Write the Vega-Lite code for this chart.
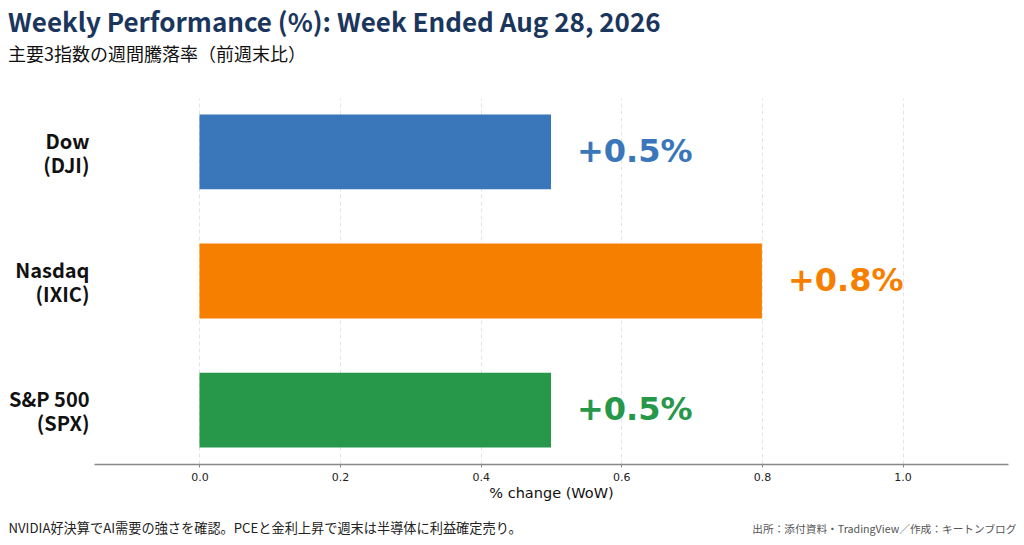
{
  "$schema": "https://vega.github.io/schema/vega-lite/v6.json",
  "description": "Weekly performance of the three major US indices, week ended Aug 28, 2026.",
  "autosize": "none",
  "width": 914,
  "height": 366,
  "padding": {"left": 94, "top": 98, "right": 16, "bottom": 81},
  "background": "white",
  "title": {
    "text": "Weekly Performance (%): Week Ended Aug 28, 2026",
    "subtitle": "主要3指数の週間騰落率（前週末比）",
    "anchor": "start",
    "frame": "group",
    "dx": -86,
    "offset": 33,
    "font": "Noto Sans CJK JP",
    "fontSize": 26,
    "fontWeight": "bold",
    "color": "#1b365d",
    "subtitleFont": "Noto Sans CJK JP",
    "subtitleFontSize": 18,
    "subtitleColor": "#111111",
    "subtitlePadding": 10
  },
  "data": {
    "values": [
      {"index": "Dow|(DJI)", "change": 0.5, "label": "+0.5%"},
      {"index": "Nasdaq|(IXIC)", "change": 0.8, "label": "+0.8%"},
      {"index": "S&P 500|(SPX)", "change": 0.5, "label": "+0.5%"}
    ]
  },
  "encoding": {
    "y": {
      "field": "index",
      "type": "nominal",
      "sort": null,
      "scale": {"paddingInner": 0.42, "paddingOuter": 0.128},
      "axis": {
        "title": null,
        "domain": false,
        "ticks": false,
        "labelExpr": "split(datum.label, '|')",
        "labelFont": "Noto Sans CJK JP",
        "labelFontSize": 20,
        "labelFontWeight": "bold",
        "labelColor": "#111111",
        "labelBaseline": "middle",
        "labelLineHeight": 24,
        "labelOffset": -9,
        "labelPadding": 5
      }
    }
  },
  "layer": [
    {
      "mark": {"type": "bar"},
      "encoding": {
        "x": {
          "field": "change",
          "type": "quantitative",
          "scale": {"domain": [-0.15, 1.15], "nice": false, "zero": false},
          "axis": {
            "title": "% change (WoW)",
            "values": [0, 0.2, 0.4, 0.6, 0.8, 1.0],
            "format": ".1f",
            "domainColor": "#888888",
            "domainWidth": 1.5,
            "tickColor": "#888888",
            "tickSize": 3,
            "labelFont": "DejaVu Sans",
            "labelFontSize": 11,
            "labelColor": "#222222",
            "labelPadding": 4,
            "titleFont": "DejaVu Sans",
            "titleFontSize": 14.5,
            "titleFontWeight": "normal",
            "titleColor": "#111111",
            "titlePadding": 4,
            "grid": true,
            "gridColor": "#e3e3e3",
            "gridDash": [4, 3],
            "gridWidth": 1
          }
        },
        "color": {
          "field": "index",
          "type": "nominal",
          "sort": null,
          "scale": {"range": ["#3a77ba", "#f77f00", "#27974a"]},
          "legend": null
        }
      }
    },
    {
      "mark": {
        "type": "text",
        "align": "left",
        "baseline": "middle",
        "dx": 26,
        "font": "DejaVu Sans",
        "fontSize": 32,
        "fontWeight": "bold"
      },
      "encoding": {
        "x": {
          "field": "change",
          "type": "quantitative",
          "axis": {
            "orient": "bottom",
            "offset": 0,
            "domain": false,
            "ticks": false,
            "grid": false,
            "values": [-0.15],
            "labelExpr": "'NVIDIA好決算でAI需要の強さを確認。PCEと金利上昇で週末は半導体に利益確定売り。'",
            "labelAlign": "left",
            "labelBaseline": "alphabetic",
            "labelOffset": -86,
            "labelPadding": 68,
            "labelLimit": 0,
            "labelFont": "Noto Sans CJK JP",
            "labelFontSize": 13.2,
            "labelColor": "#222222",
            "labelOverlap": false,
            "labelBound": false,
            "labelFlush": false,
            "title": "出所：添付資料・TradingView／作成：キートンブログ",
            "titleAnchor": "end",
            "titleAlign": "right",
            "titleBaseline": "alphabetic",
            "titleX": 922,
            "titleY": 68,
            "titleLimit": 0,
            "titleFont": "Noto Sans CJK JP",
            "titleFontSize": 10.7,
            "titleFontWeight": "normal",
            "titleColor": "#555555"
          }
        },
        "text": {"field": "label"},
        "color": {"field": "index", "type": "nominal", "sort": null, "legend": null}
      }
    },
    {
      "mark": {"type": "rule", "color": "#111111", "strokeWidth": 1.5},
      "encoding": {
        "x": {"datum": 0, "type": "quantitative", "axis": null}
      }
    }
  ],
  "resolve": {"axis": {"x": "independent"}},
  "config": {
    "view": {"stroke": null}
  }
}
